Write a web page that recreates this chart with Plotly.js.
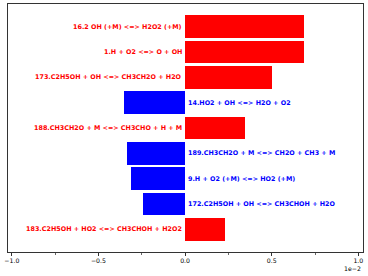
<!DOCTYPE html>
<html>
<head>
<meta charset="utf-8">
<script src="https://cdn.plot.ly/plotly-3.0.1.min.js"></script>
<style>html,body{margin:0;padding:0;background:#fff;}#chart{width:368px;height:276px;}</style>
</head>
<body>
<div id="chart"></div>
<script>
// Reactions (top to bottom) and sensitivity values (in units of 1e-2)
const reactions = [
  "16.2 OH (+M) <=> H2O2 (+M)",
  "1.H + O2 <=> O + OH",
  "173.C2H5OH + OH <=> CH3CH2O + H2O",
  "14.HO2 + OH <=> H2O + O2",
  "188.CH3CH2O + M <=> CH3CHO + H + M",
  "189.CH3CH2O + M <=> CH2O + CH3 + M",
  "9.H + O2 (+M) <=> HO2 (+M)",
  "172.C2H5OH + OH <=> CH3CHOH + H2O",
  "183.C2H5OH + HO2 <=> CH3CHOH + H2O2"
];
const sensitivity = [0.688, 0.688, 0.50, -0.35, 0.348, -0.333, -0.312, -0.245, 0.231];
const xTicks = [-1.0, -0.5, 0.0, 0.5, 1.0];

const RED = "#ff0000", BLUE = "#0000ff";
const ypos = reactions.map((_, i) => i);
const colors = sensitivity.map(v => v >= 0 ? RED : BLUE);

const trace = {
  type: "bar",
  orientation: "h",
  x: sensitivity,
  y: ypos,
  width: 0.9,
  marker: {color: colors, line: {width: 0}},
  hoverinfo: "none"
};

const annotations = reactions.map((r, i) => ({
  x: 0, y: i, xref: "x", yref: "y",
  text: r,
  showarrow: false,
  xanchor: sensitivity[i] >= 0 ? "right" : "left",
  yanchor: "middle",
  xshift: sensitivity[i] >= 0 ? -1 : 1,
  font: {family: "DejaVu Sans", size: 6.4, weight: 700, color: colors[i]}
}));
annotations.push({
  xref: "paper", yref: "paper", x: 1.0, y: -0.045,
  xanchor: "right", yanchor: "top",
  text: "1e\u22122", showarrow: false,
  font: {family: "DejaVu Sans", size: 6.2, color: "#000"}
});

const layout = {
  width: 368, height: 276,
  margin: {l: 8, r: 5, t: 4, b: 24, pad: 0},
  paper_bgcolor: "#fff", plot_bgcolor: "#fff",
  showlegend: false,
  font: {family: "DejaVu Sans", size: 6.2, color: "#000"},
  bargap: 0,
  xaxis: {
    range: [-1.022, 1.027],
    tickvals: xTicks,
    ticktext: xTicks.map(v => v.toFixed(1).replace("-", "\u2212")),
    ticks: "outside", ticklen: 3, tickwidth: 0.8, tickcolor: "#000",
    minor: {tickvals: [-0.75, -0.25, 0.25, 0.75], ticks: "outside", ticklen: 2, tickwidth: 0.6, tickcolor: "#000"},
    showgrid: false, zeroline: false,
    showline: true, linecolor: "#000", linewidth: 0.8, mirror: true,
    tickfont: {family: "DejaVu Sans", size: 6.2, color: "#000"}
  },
  yaxis: {
    range: [8.9, -0.9],
    showticklabels: false, ticks: "",
    showgrid: false, zeroline: false,
    showline: true, linecolor: "#000", linewidth: 0.8, mirror: true
  },
  annotations: annotations
};

Plotly.newPlot("chart", [trace], layout, {staticPlot: true, displayModeBar: false});
</script>
</body>
</html>
